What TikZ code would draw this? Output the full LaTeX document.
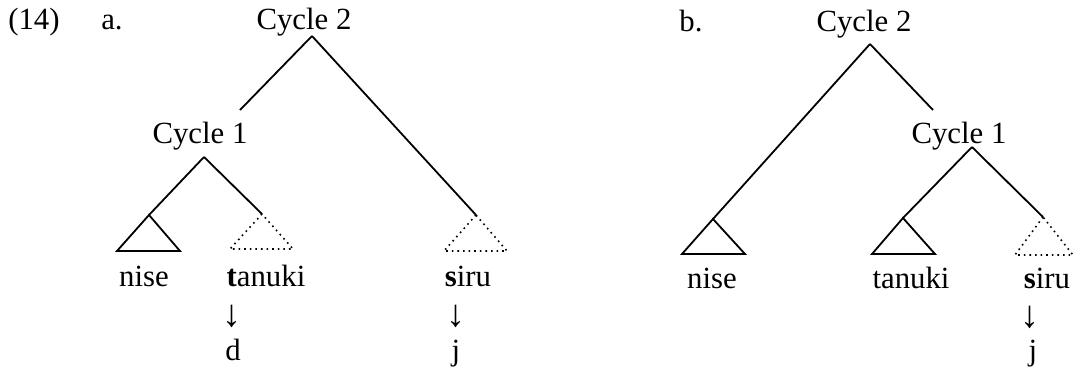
\documentclass[tikz,border=0pt]{standalone}
\usepackage{fontspec}
\setmainfont{Liberation Serif}
\begin{document}
\begin{tikzpicture}[x=0.5pt,y=-0.5pt,
  every node/.style={inner sep=0pt,anchor=base,font=\fontsize{15.4}{18}\selectfont},
  branch/.style={line width=0.9pt},
  fulltri/.style={line width=0.9pt},
  dottri/.style={dotted,line width=0.8pt},
  arr/.style={anchor=center,font=\fontsize{19}{20}\selectfont}]
\useasboundingbox (0,0) rectangle (1073,370);

% (14) a.
\node (num) at (34,29) {(14)};
\node (lbla) at (112,29) {a.};
\node (lcyctwo) at (304,29) {Cycle 2};
\node (lcycone) at (200,143) {Cycle 1};
\coordinate (ltop) at (312,36);
\coordinate (lmid) at (240,110);
\coordinate (lone) at (204,157);
\coordinate (lnise) at (149,215);
\coordinate (ltanuki) at (262,214);
\coordinate (lsiru) at (476,215);

\draw[branch] (ltop) -- (lmid);
\draw[branch] (ltop) -- (lsiru);
\draw[branch] (lone) -- (lnise);
\draw[branch] (lone) -- (ltanuki);

\draw[fulltri] (lnise) -- ++(-32,36) -- ++(63,0) -- cycle;
\draw[dottri] (ltanuki) -- ++(-32,35) -- ++(63,0) -- cycle;
\draw[dottri] (lsiru) -- ++(-32,36) -- ++(63,0) -- cycle;

\node (lnisew) at (144,286) {nise};
\node (ltanukiw) at (266,286) {\textbf{t}anuki};
\node (lsiruw) at (468,286) {\textbf{s}iru};
\node[arr] (larrt) at (232,316) {↓};
\node[arr] (larrs) at (456,316) {↓};
\node (ld) at (233,360) {d};
\node (lj) at (456,360) {j};

% b.
\node (lblb) at (691,31) {b.};
\node (rcyctwo) at (864,31) {Cycle 2};
\node (rcycone) at (959,143) {Cycle 1};
\coordinate (rtop) at (870,44);
\coordinate (rmid) at (933,110);
\coordinate (rone) at (972,147);
\coordinate (rnise) at (713,219);
\coordinate (rtanuki) at (903,218);
\coordinate (rsiru) at (1043,217);

\draw[branch] (rtop) -- (rnise);
\draw[branch] (rtop) -- (rmid);
\draw[branch] (rone) -- (rtanuki);
\draw[branch] (rone) -- (rsiru);

\draw[fulltri] (rnise) -- ++(-31,35) -- ++(63,0) -- cycle;
\draw[fulltri] (rtanuki) -- ++(-31,36) -- ++(63,0) -- cycle;
\draw[dottri] (rsiru) -- ++(-28,38) -- ++(58,0) -- cycle;

\node (rnisew) at (712,288) {nise};
\node (rtanukiw) at (911,288) {tanuki};
\node (rsiruw) at (1047,288) {\textbf{s}iru};
\node[arr] (rarrs) at (1030,317) {↓};
\node (rj) at (1033,360) {j};
\end{tikzpicture}
\end{document}
